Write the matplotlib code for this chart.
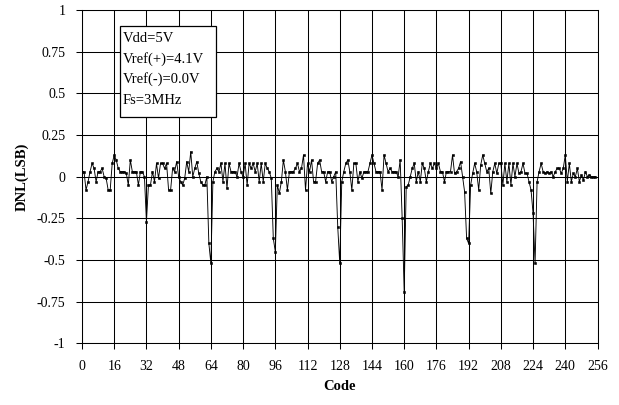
"""DNL vs code plot for the 8-bit ADC test."""
import matplotlib
matplotlib.use("Agg")
import matplotlib.pyplot as plt
import numpy as np
from matplotlib.patches import Rectangle

# DNL (LSB) per code in blocks of 16 codes
dnl_000 = [0.03, 0.03, -0.08, -0.03, 0.03, 0.08, 0.05, -0.03, 0.03, 0.03, 0.05, 0.0, -0.01, -0.08, -0.08, 0.08]
dnl_016 = [0.13, 0.1, 0.05, 0.03, 0.03, 0.03, 0.02, -0.05, 0.1, 0.03, 0.03, 0.03, -0.05, 0.03, 0.03, 0.0]
dnl_032 = [-0.27, -0.05, -0.05, 0.03, -0.03, 0.08, -0.01, 0.08, 0.08, 0.05, 0.08, -0.08, -0.08, 0.05, 0.03, 0.09]
dnl_048 = [0.0, -0.03, -0.05, -0.01, 0.09, 0.03, 0.15, 0.0, 0.05, 0.09, 0.02, -0.03, -0.05, -0.05, 0.0, -0.4]
dnl_064 = [-0.52, -0.03, 0.03, 0.05, 0.03, 0.08, -0.03, 0.08, -0.07, 0.08, 0.03, 0.03, 0.03, 0.0, 0.08, 0.03]
dnl_080 = [0.0, 0.08, -0.05, 0.08, 0.05, 0.08, 0.03, 0.08, -0.03, 0.08, -0.03, 0.08, 0.05, 0.03, -0.01, -0.37]
dnl_096 = [-0.45, -0.05, -0.1, -0.03, 0.1, 0.03, -0.08, 0.03, 0.03, 0.03, 0.05, 0.08, 0.03, 0.05, 0.13, -0.08]
dnl_112 = [0.08, 0.03, 0.1, -0.03, -0.03, 0.08, 0.1, 0.03, 0.03, -0.03, 0.03, 0.03, -0.03, 0.0, 0.03, -0.3]
dnl_128 = [-0.52, -0.03, 0.03, 0.08, 0.1, 0.03, -0.08, 0.08, 0.08, -0.03, 0.03, -0.01, 0.03, 0.03, 0.03, 0.08]
dnl_144 = [0.13, 0.08, 0.03, 0.03, 0.03, -0.08, 0.13, 0.08, 0.03, 0.05, 0.03, 0.03, 0.03, 0.0, 0.1, -0.25]
dnl_160 = [-0.69, -0.06, -0.05, 0.0, 0.05, 0.08, -0.03, 0.03, -0.03, 0.08, 0.05, -0.03, 0.03, 0.08, 0.05, 0.08]
dnl_176 = [0.05, 0.08, 0.03, 0.03, -0.03, 0.03, 0.03, 0.03, 0.13, 0.02, 0.03, 0.05, 0.09, 0.0, -0.09, -0.37]
dnl_192 = [-0.4, -0.05, 0.02, 0.08, 0.03, -0.08, 0.07, 0.13, 0.08, 0.03, 0.05, -0.1, 0.03, 0.08, 0.02, 0.08]
dnl_208 = [0.08, -0.05, 0.08, -0.03, 0.08, -0.05, 0.08, 0.0, 0.08, 0.02, 0.03, 0.08, 0.02, 0.02, -0.03, -0.08]
dnl_224 = [-0.22, -0.52, -0.03, 0.03, 0.08, 0.03, 0.02, 0.03, 0.02, 0.03, 0.0, 0.03, 0.05, 0.05, 0.02, 0.05]
dnl_240 = [0.13, -0.03, 0.08, -0.03, 0.02, 0.0, 0.05, -0.03, 0.01, -0.02, 0.03, 0.0, 0.01, 0.0, 0.0, 0.0]

dnl = np.concatenate([dnl_000, dnl_016, dnl_032, dnl_048, dnl_064, dnl_080, dnl_096, dnl_112,
                      dnl_128, dnl_144, dnl_160, dnl_176, dnl_192, dnl_208, dnl_224, dnl_240])
codes = np.arange(len(dnl))

x_ticks = list(range(0, 257, 16))
y_ticks = [-1, -0.75, -0.5, -0.25, 0, 0.25, 0.5, 0.75, 1]
y_tick_labels = ["-1", "-0.75", "-0.5", "-0.25", "0", "0.25", "0.5", "0.75", "1"]
conditions = ["Vdd=5V", "Vref(+)=4.1V", "Vref(-)=0.0V", "Fs=3MHz"]

plt.rcParams["font.family"] = ["Liberation Serif", "DejaVu Serif"]

W, H = 619, 405
fig = plt.figure(figsize=(W / 100, H / 100), dpi=100)
ax = fig.add_axes([82 / W, 1 - 343.4 / H, 515.5 / W, 333.4 / H])

ax.plot(codes, dnl, color="black", lw=0.65, marker="s", ms=1.9, mew=0.4, mfc="black", mec="black", zorder=3)

ax.set_xlim(0, 256)
ax.set_ylim(-1, 1)
ax.set_xticks(x_ticks)
ax.set_yticks(y_ticks)
ax.set_yticklabels(y_tick_labels)
ax.grid(True, color="black", lw=0.75)
ax.set_axisbelow(True)
ax.tick_params(direction="out", length=4, width=0.75, labelsize=10, pad=8)
for sp in ax.spines.values():
    sp.set_linewidth(0.75)

ax.set_xlabel("Code", fontsize=10.5, fontweight="bold", labelpad=5)
ax.set_ylabel("DNL(LSB)", fontsize=10.5, fontweight="bold", labelpad=6)

# Test conditions box
fig.patches.append(Rectangle((120 / W, 1 - 117 / H), 96 / W, 91 / H, transform=fig.transFigure,
                             facecolor="white", edgecolor="black", lw=0.9, zorder=5))
for i, line in enumerate(conditions):
    fig.text(123 / W, 1 - (38 + 20.7 * i) / H, line, fontsize=10.5, va="center", ha="left", zorder=6)

fig.savefig("out.png", dpi=100)
